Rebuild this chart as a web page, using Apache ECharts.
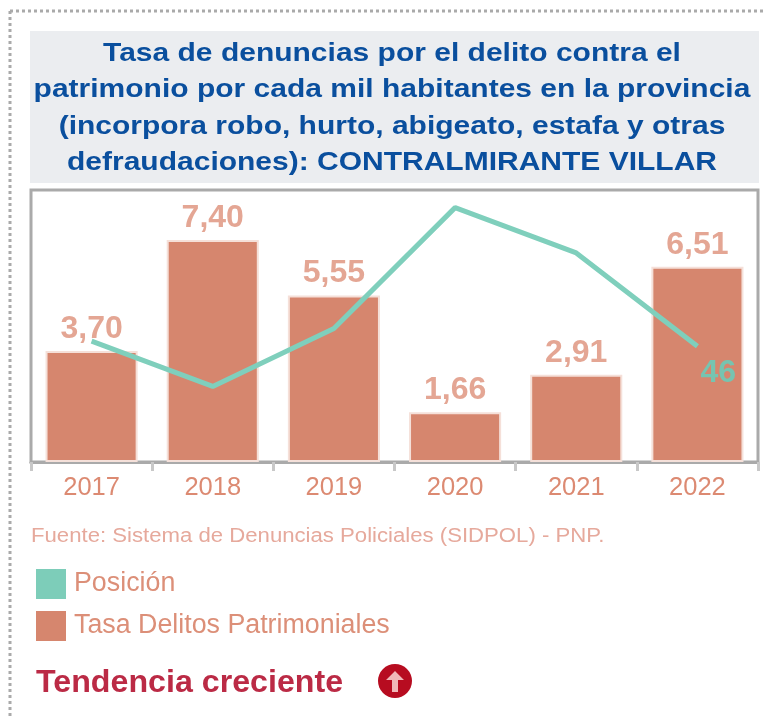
<!DOCTYPE html>
<html><head><meta charset="utf-8">
<script src="https://cdn.jsdelivr.net/npm/echarts@6/dist/echarts.min.js"></script>
<style>html,body{margin:0;padding:0;background:#fff}#c{width:766px;height:717px;filter:blur(0.5px)}</style>
</head><body><div id="c"></div>
<script>
const years = ['2017','2018','2019','2020','2021','2022'];
const tasa = [3.70,7.40,5.55,1.66,2.91,6.51];
const posicion = [48,30,53,101,83,46];
const titleLines = ['Tasa de denuncias por el delito contra el','patrimonio por cada mil habitantes en la provincia','(incorpora robo, hurto, abigeato, estafa y otras','defraudaciones): CONTRALMIRANTE VILLAR'];
const fuente = 'Fuente: Sistema de Denuncias Policiales (SIDPOL) - PNP.';
const tendencia = 'Tendencia creciente';
const chart = echarts.init(document.getElementById('c'));
const dotted = {stroke:'#aaaaaa',lineWidth:3,lineDash:[3,3]};
chart.setOption({
  animation:false,
  grid:{left:31,right:8,top:190,height:272,show:true,borderColor:'#aaaaaa',borderWidth:3,backgroundColor:'#fff'},
  legend:{left:31,top:564,orient:'vertical',itemWidth:30,itemHeight:30,itemGap:12,icon:'rect',
    data:[{name:'Posición',itemStyle:{borderWidth:0}},{name:'Tasa Delitos Patrimoniales',itemStyle:{borderWidth:0}}],
    textStyle:{fontFamily:'Liberation Sans',fontSize:26.8,color:'#dc8f78',padding:[2,0,0,3]}},
  xAxis:{type:'category',data:years,
    axisLine:{lineStyle:{color:'#aaaaaa',width:3}},
    axisTick:{show:true,length:9,lineStyle:{color:'#c8c8c8',width:3}},
    axisLabel:{fontFamily:'Liberation Sans',fontSize:25.5,color:'#dc8a72',margin:13}},
  yAxis:[{type:'value',min:0,max:9.07,show:false},{type:'value',min:0,max:108,show:false}],
  series:[
    {name:'Tasa Delitos Patrimoniales',type:'bar',data:tasa,barWidth:'76%',
     itemStyle:{color:'#d6866e',borderColor:'#f5e0d9',borderWidth:2},
     label:{show:true,position:'top',distance:6,fontFamily:'Liberation Sans',fontWeight:'bold',fontSize:32,color:'#e4a694',
       formatter:p=>p.value.toFixed(2).replace('.',',')}},
    {name:'Posición',type:'line',yAxisIndex:1,data:posicion,symbol:'none',
     lineStyle:{color:'#7fcfbc',width:5},itemStyle:{color:'#7dcdb9'},
     endLabel:{show:true,formatter:'{c}',position:'bottom',offset:[-5,27],fontFamily:'Liberation Sans',fontWeight:'bold',fontSize:32,color:'#76c4b0'}}
  ],
  graphic:[
    {type:'rect',z:-10,shape:{x:30,y:31,width:729,height:152},style:{fill:'#ebedf0'}},
    {type:'line',shape:{x1:10,y1:11,x2:766,y2:11},style:dotted},
    {type:'line',shape:{x1:10,y1:11,x2:10,y2:717},style:dotted},
    {type:'text',x:392,y:35,scaleX:1.132,style:{text:titleLines.join('\n'),textAlign:'center',font:'bold 26.5px "Liberation Sans"',lineHeight:36.5,fill:'#0a4f9e'}},
    {type:'text',x:31,y:527,scaleX:1.136,style:{text:fuente,font:'19.5px "Liberation Sans"',fill:'#e6a99c'}},
    {type:'text',x:36,y:667,scaleX:1.006,style:{text:tendencia,font:'bold 32px "Liberation Sans"',fill:'#bb2a45'}},
    {type:'circle',shape:{cx:395,cy:681,r:17},style:{fill:'#b70c20'}},
    {type:'polygon',shape:{points:[[395,671],[404,680],[398,680],[398,692],[392,692],[392,680],[386,680]]},style:{fill:'#f0b8b8'}}
  ]
});
</script></body></html>
